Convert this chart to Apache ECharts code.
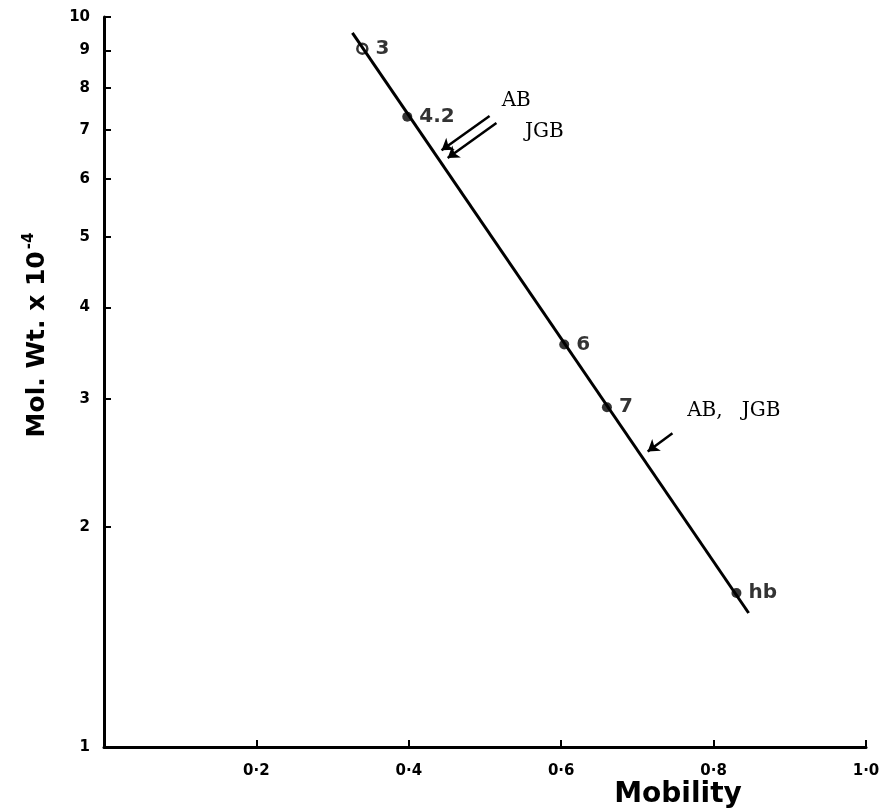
<!DOCTYPE html>
<html>
<head>
<meta charset="utf-8">
<script src="https://cdn.jsdelivr.net/npm/echarts@6/dist/echarts.min.js"></script>
<style>
html,body{margin:0;padding:0;background:#fff;}
#chart{width:884px;height:811px;}
</style>
</head>
<body>
<div id="chart"></div>
<script>
// ---- data ----
const pointNames = ['3', '4.2', '6', '7', 'hb'];
const pointMobility = [0.339, 0.398, 0.604, 0.660, 0.830];
const pointMolWt = [9.05, 7.3, 3.56, 2.92, 1.625];
const fitMobility = [0.326, 0.846];
const fitMolWt = [9.51, 1.526];
const xTickValues = [0.2, 0.4, 0.6, 0.8, 1.0];
const xTickLabels = ['0·2', '0·4', '0·6', '0·8', '1·0'];
const yTickValues = [1, 2, 3, 4, 5, 6, 7, 8, 9, 10];
// annotation positions (data coordinates)
const arrowStarts = [[0.506, 7.32], [0.515, 7.16], [0.746, 2.69]];
const arrowEnds = [[0.443, 6.57], [0.451, 6.41], [0.7135, 2.54]];
const noteTexts = ['AB', 'JGB', 'AB,   JGB'];
const notePos = [[0.541, 7.67], [0.578, 6.96], [0.8265, 2.886]];

const chart = echarts.init(document.getElementById('chart'));
const boldFont = 'DejaVu Sans';
const serifFont = 'DejaVu Serif';

const scatterData = pointNames.map((n, i) => ({
  name: n,
  value: [pointMobility[i], pointMolWt[i]],
  itemStyle: i === 0 ? {color: '#fff', borderColor: '#000', borderWidth: 2.5} : {color: '#000'}
}));

chart.setOption({
  animation: false,
  backgroundColor: '#fff',
  grid: {left: 104, right: 18, top: 17, bottom: 64},
  xAxis: {
    type: 'value', min: 0, max: 1, interval: 0.2,
    splitLine: {show: false},
    axisLine: {show: true, lineStyle: {color: '#000', width: 3}},
    axisTick: {show: true, inside: true, length: 7, lineStyle: {color: '#000', width: 2}, customValues: xTickValues},
    axisLabel: {
      customValues: xTickValues,
      formatter: v => { const i = xTickValues.findIndex(t => Math.abs(t - v) < 1e-6); return i >= 0 ? xTickLabels[i] : ''; },
      color: '#000', fontFamily: boldFont, fontWeight: 'bold', fontSize: 15, margin: 17
    }
  },
  yAxis: {
    type: 'log', logBase: 10, min: 1, max: 10,
    splitLine: {show: false},
    minorTick: {show: false},
    axisLine: {show: true, lineStyle: {color: '#000', width: 3}},
    axisTick: {show: true, inside: true, length: 7, lineStyle: {color: '#000', width: 2}, customValues: yTickValues},
    axisLabel: {customValues: yTickValues, color: '#000', fontFamily: boldFont, fontWeight: 'bold', fontSize: 15, margin: 14}
  },
  graphic: [
    {type: 'text', x: 678, y: 795, style: {text: 'Mobility', fontFamily: boldFont, fontWeight: 'bold', fontSize: 28, fill: '#000', align: 'center', verticalAlign: 'middle'}},
    {type: 'text', x: 37, y: 335, rotation: Math.PI / 2,
     style: {text: '{a|Mol. Wt. x 10}{s|-4}', align: 'center', verticalAlign: 'middle',
       rich: {a: {fontFamily: boldFont, fontWeight: 'bold', fontSize: 25, fill: '#000'},
              s: {fontFamily: boldFont, fontWeight: 'bold', fontSize: 15, fill: '#000', verticalAlign: 'top', padding: [0, 0, 16, 2]}}}}
  ],
  series: [
    {
      type: 'line', name: 'fit',
      data: fitMobility.map((x, i) => [x, fitMolWt[i]]),
      showSymbol: false, silent: true,
      lineStyle: {color: '#000', width: 3},
      markLine: {
        silent: true, symbol: ['none', 'arrow'], symbolSize: 11,
        lineStyle: {color: '#000', width: 2.5, type: 'solid'},
        label: {show: false},
        data: arrowStarts.map((s, i) => [{coord: s}, {coord: arrowEnds[i]}])
      },
      markPoint: {
        silent: true, symbol: 'circle', symbolSize: 0,
        label: {show: true, position: 'inside', color: '#000', fontFamily: serifFont, fontSize: 20, formatter: p => p.name},
        data: noteTexts.map((t, i) => ({name: t, coord: notePos[i]}))
      }
    },
    {
      type: 'scatter', name: 'standards',
      data: scatterData,
      symbol: 'circle', symbolSize: 10,
      label: {show: true, position: 'right', distance: 7, formatter: p => p.name, color: '#000', fontFamily: boldFont, fontWeight: 'bold', fontSize: 20}
    }
  ]
});
</script>
</body>
</html>
